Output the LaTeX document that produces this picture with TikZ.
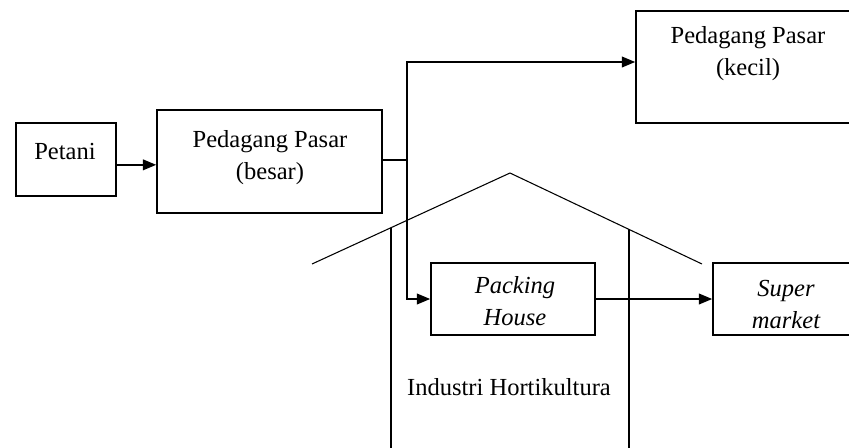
\documentclass[tikz,border=0pt]{standalone}
\usepackage{fontspec}
\setmainfont{Liberation Serif}
\usetikzlibrary{arrows.meta}
\tikzset{
	box/.style={draw, line width=1.2pt, inner sep=0pt},
	lbl/.style={anchor=base, align=center, inner sep=0pt, font=\fontsize{18.4}{24}\selectfont},
	arr/.style={line width=1.3pt, -{Triangle[length=10pt,width=8pt]}},
	wall/.style={line width=0.8pt}
}
\begin{document}
\begin{tikzpicture}[x=0.75pt, y=-0.75pt]
	\clip (0,0) rectangle (849,447);
	% house
	\draw [wall] (312,264) -- (510,173) -- (702,264);
	\draw [wall] (391,228) -- (391,450);
	\draw [wall] (629,229) -- (629,450);
	% boxes
	\node [box, minimum width=75pt, minimum height=54.75pt] (petani) at (66,159.5) {};
	\node [box, minimum width=168.75pt, minimum height=77.25pt] (besar) at (269.5,161.5) {};
	\node [box, minimum width=183pt, minimum height=84pt] (kecil) at (758,67) {};
	\node [box, minimum width=123pt, minimum height=54pt] (packing) at (513,299) {};
	\node [box, minimum width=140.25pt, minimum height=54pt] (super) at (806.5,299) {};
	% texts (base = last line)
	\node [lbl] (petanitxt) at (65,159) {Petani};
	\node [lbl] (besartxt) at (270,179) {Pedagang Pasar\\(besar)};
	\node [lbl] (keciltxt) at (748,75) {Pedagang Pasar\\(kecil)};
	\node [lbl] (packingtxt) at (515,325) {\itshape Packing\\\itshape House};
	\node [lbl] (supertxt) at (786,328) {\itshape Super\\\itshape market};
	\node [lbl] (industri) at (509,395) {Industri Hortikultura};
	% arrows
	\coordinate (split) at (407,160);
	\coordinate (turn) at (407,62);
	\draw [arr] ([yshift=-4pt]petani.east) -- ([yshift=-4pt]petani.east -| besar.west);
	\draw [line width=1.3pt] (besar.east |- split) -- (split);
	\draw [arr] (split) -- (turn) -- (turn -| kecil.west);
	\draw [arr] (split) |- (packing.west);
	\draw [arr] (packing.east) -- (super.west);
\end{tikzpicture}
\end{document}
